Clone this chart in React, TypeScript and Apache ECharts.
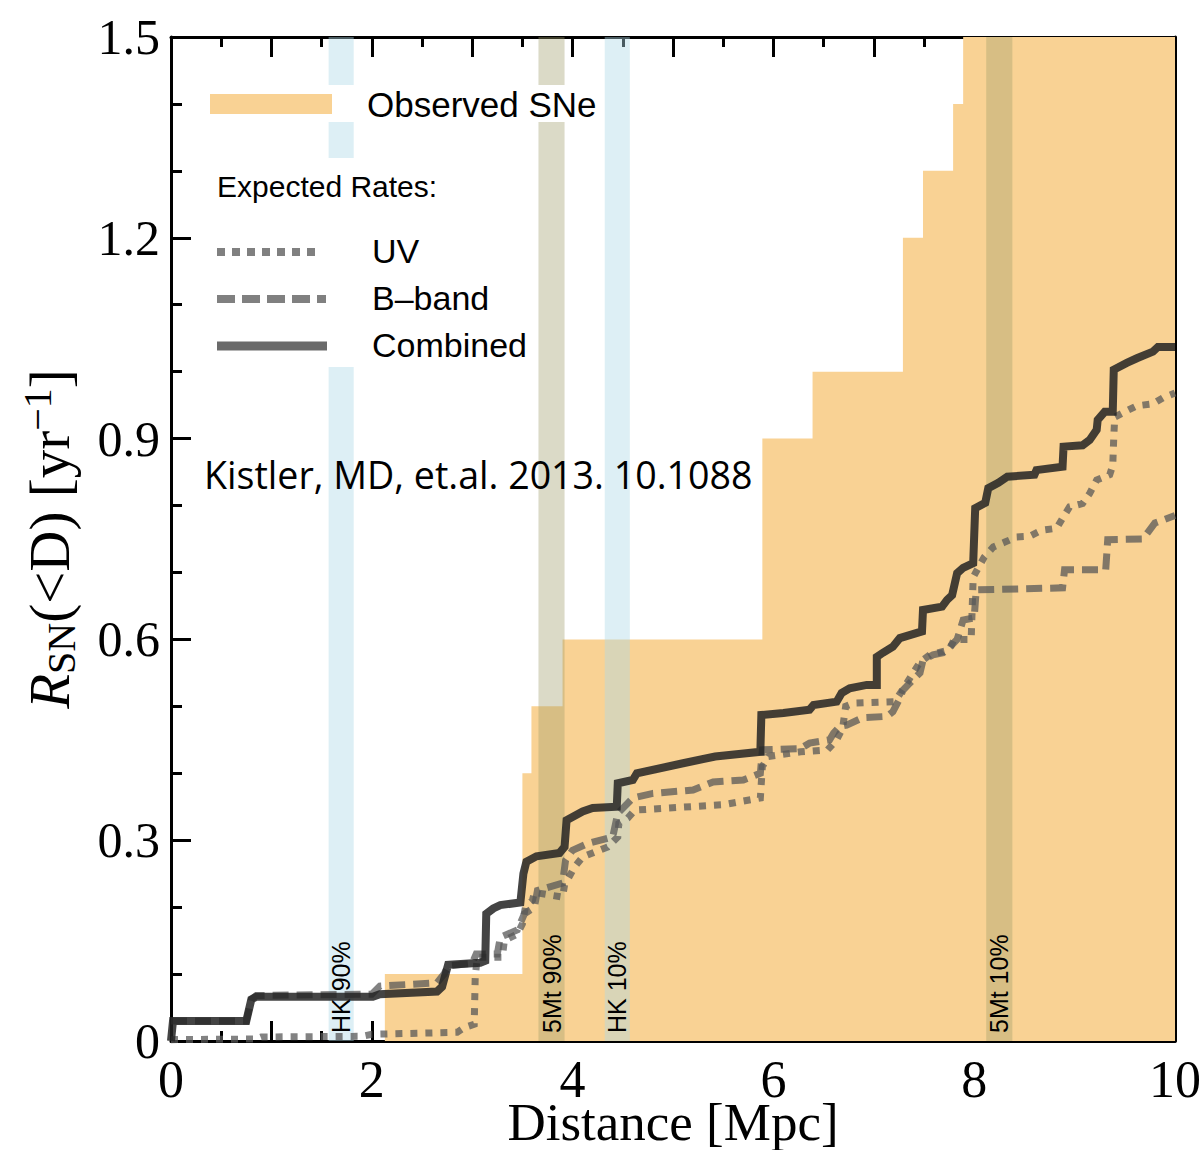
import React, { useEffect, useRef } from 'react';
import * as echarts from 'echarts';

// Observed core-collapse supernovae: cumulative rate steps (start distance, rate)
const observedDist = [2.13, 3.5, 3.59, 3.9, 5.89, 6.39, 7.29, 7.49, 7.79, 7.89, 10];
const observedRate = [0.1, 0.4, 0.5, 0.6, 0.9, 1.0, 1.2, 1.3, 1.4, 1.5, 1.5];

// Expected cumulative rates [distance Mpc, rate yr^-1]
const uvRate: [number, number][] = [
  [0, 0.002], [0.85, 0.003], [0.9, 0.006], [1.9, 0.007], [2.0, 0.01], [2.85, 0.013], [2.92, 0.02],
  [3.02, 0.025], [3.03, 0.095], [3.05, 0.125], [3.3, 0.125], [3.32, 0.15], [3.45, 0.16], [3.5, 0.175],
  [3.53, 0.2], [3.6, 0.21], [3.62, 0.222], [3.9, 0.215], [3.92, 0.233], [4.02, 0.26], [4.1, 0.275],
  [4.35, 0.29], [4.45, 0.305], [4.46, 0.325], [4.55, 0.333], [4.62, 0.345], [5.5, 0.353], [5.87, 0.363],
  [5.89, 0.41], [5.95, 0.425], [6.27, 0.432], [6.54, 0.435], [6.63, 0.45], [6.69, 0.468], [6.72, 0.5],
  [6.8, 0.505], [7.2, 0.507], [7.24, 0.514], [7.33, 0.535], [7.46, 0.566], [7.56, 0.577], [7.75, 0.584],
  [7.8, 0.6], [7.97, 0.6], [7.99, 0.693], [8.1, 0.723], [8.19, 0.738], [8.3, 0.745], [8.42, 0.753],
  [8.55, 0.754], [8.67, 0.763], [8.82, 0.766], [8.88, 0.781], [8.95, 0.798], [9.08, 0.803], [9.15, 0.818],
  [9.22, 0.838], [9.35, 0.846], [9.38, 0.86], [9.39, 0.902], [9.4, 0.932], [9.5, 0.94], [9.62, 0.949],
  [9.78, 0.952], [9.88, 0.961], [10, 0.968],
];

const bBandRate: [number, number][] = [
  [0, 0.03], [0.75, 0.03], [0.8, 0.062], [0.85, 0.068], [2.0, 0.07], [2.08, 0.082], [2.65, 0.087],
  [2.72, 0.1], [2.76, 0.112], [3.0, 0.116], [3.04, 0.13], [3.25, 0.13], [3.28, 0.155], [3.45, 0.166],
  [3.52, 0.19], [3.62, 0.2], [3.65, 0.225], [3.9, 0.236], [3.93, 0.27], [4.0, 0.285], [4.15, 0.295],
  [4.4, 0.305], [4.45, 0.34], [4.6, 0.363], [4.8, 0.37], [5.2, 0.375], [5.4, 0.387], [5.7, 0.39],
  [5.87, 0.4], [5.89, 0.435], [6.27, 0.437], [6.36, 0.445], [6.56, 0.45], [6.6, 0.46], [6.66, 0.47],
  [6.73, 0.472], [6.89, 0.483], [7.13, 0.485], [7.19, 0.492], [7.26, 0.512], [7.29, 0.524], [7.36, 0.535],
  [7.46, 0.55], [7.49, 0.569], [7.59, 0.577], [7.69, 0.58], [7.76, 0.589], [7.83, 0.6], [7.89, 0.629],
  [8.0, 0.632], [8.02, 0.674], [8.88, 0.677], [8.9, 0.704], [9.31, 0.704], [9.33, 0.749], [9.68, 0.75],
  [9.73, 0.76], [9.8, 0.774], [10, 0.785],
];

const combinedRate: [number, number][] = [
  [0, 0], [0.02, 0.03], [0.75, 0.03], [0.8, 0.062], [0.85, 0.066], [2.01, 0.066], [2.08, 0.07],
  [2.65, 0.074], [2.7, 0.081], [2.76, 0.114], [3.08, 0.117], [3.13, 0.12], [3.14, 0.19], [3.21, 0.198],
  [3.28, 0.203], [3.48, 0.207], [3.51, 0.25], [3.54, 0.268], [3.64, 0.276], [3.87, 0.281], [3.92, 0.29],
  [3.94, 0.33], [4.1, 0.343], [4.2, 0.348], [4.44, 0.35], [4.45, 0.385], [4.6, 0.39], [4.64, 0.4],
  [5.1, 0.415], [5.42, 0.425], [5.87, 0.432], [5.88, 0.487], [6.1, 0.49], [6.36, 0.495], [6.4, 0.502],
  [6.63, 0.507], [6.68, 0.52], [6.76, 0.527], [6.93, 0.532], [7.03, 0.532], [7.03, 0.574], [7.09, 0.58],
  [7.19, 0.589], [7.26, 0.602], [7.48, 0.612], [7.49, 0.644], [7.68, 0.649], [7.73, 0.659], [7.78, 0.666],
  [7.83, 0.699], [7.89, 0.707], [7.99, 0.714], [8.01, 0.796], [8.11, 0.804], [8.14, 0.826], [8.24, 0.834],
  [8.33, 0.843], [8.6, 0.846], [8.62, 0.853], [8.88, 0.858], [8.89, 0.888], [9.08, 0.89], [9.15, 0.898],
  [9.22, 0.913], [9.23, 0.928], [9.3, 0.94], [9.38, 0.94], [9.39, 1.003], [9.52, 1.013], [9.62, 1.02],
  [9.78, 1.03], [9.83, 1.037], [10, 1.037],
];

// Detector horizon bands (distance ranges, Mpc)
const bandStart = [1.57, 3.66, 4.32, 8.12];
const bandEnd = [1.82, 3.92, 4.57, 8.38];
const bandLabel = ['HK 90%', '5Mt 90%', 'HK 10%', '5Mt 10%'];
const bandKind = ['HK', '5Mt', 'HK', '5Mt'];

const X_MAX = 10;
const Y_MAX = 1.5;

const SERIF = '"Liberation Serif", "Times New Roman", serif';
const SANS = '"Liberation Sans", Arial, sans-serif';
const ORANGE = '#f9d294';
const BAND_COLORS: Record<string, string> = {
  HK: 'rgba(173,216,230,0.42)',
  '5Mt': 'rgba(161,158,108,0.38)',
};

const axisLineStyle = { color: '#000', width: 3 };

function makeXAxis(position: 'bottom' | 'top', withLabels: boolean) {
  return {
    type: 'value',
    min: 0,
    max: X_MAX,
    interval: 1,
    position,
    axisLine: { show: true, onZero: false, lineStyle: axisLineStyle },
    axisTick: { show: true, inside: true, length: 20, lineStyle: { color: '#000', width: 3 } },
    minorTick: { show: true, splitNumber: 2, length: 10, lineStyle: { color: '#000', width: 3 } },
    splitLine: { show: false },
    minorSplitLine: { show: false },
    axisLabel: withLabels
      ? {
          show: true,
          margin: 12,
          color: '#000',
          fontFamily: SERIF,
          fontSize: 52,
          formatter: (v: number) => (Math.round(v) % 2 === 0 ? String(Math.round(v)) : ''),
        }
      : { show: false },
    ...(withLabels
      ? {
          name: 'Distance [Mpc]',
          nameLocation: 'middle',
          nameGap: 54,
          nameMoveOverlap: false,
          nameTextStyle: { color: '#000', fontFamily: SERIF, fontSize: 53 },
        }
      : {}),
  };
}

function makeYAxis(position: 'left' | 'right', withLabels: boolean) {
  return {
    type: 'value',
    min: 0,
    max: Y_MAX,
    interval: 0.3,
    position,
    axisLine: { show: true, onZero: false, lineStyle: axisLineStyle },
    axisTick: { show: true, inside: true, length: 20, lineStyle: { color: '#000', width: 3 } },
    minorTick: { show: true, splitNumber: 3, length: 11, lineStyle: { color: '#000', width: 3 } },
    splitLine: { show: false },
    minorSplitLine: { show: false },
    axisLabel: withLabels
      ? {
          show: true,
          margin: 11,
          color: '#000',
          fontFamily: SERIF,
          fontSize: 50,
          formatter: (v: number) => (Math.abs(v) < 1e-9 ? '0' : v.toFixed(1)),
        }
      : { show: false },
    ...(withLabels
      ? {
          name: '{it|R}{sub|SN}{n|(<D) [yr}{sup|−1}{n|]}',
          nameLocation: 'middle',
          nameGap: 90,
          nameMoveOverlap: false,
          nameTextStyle: {
            color: '#000',
            fontFamily: SERIF,
            fontSize: 57,
            rich: {
              it: { fontFamily: SERIF, fontSize: 57, fontStyle: 'italic', color: '#000', lineHeight: 64, verticalAlign: 'middle' },
              sub: { fontFamily: SERIF, fontSize: 40, color: '#000', lineHeight: 64, verticalAlign: 'bottom' },
              n: { fontFamily: SERIF, fontSize: 57, color: '#000', lineHeight: 64, verticalAlign: 'middle' },
              sup: { fontFamily: SERIF, fontSize: 40, color: '#000', lineHeight: 64, verticalAlign: 'top' },
            },
          },
        }
      : {}),
  };
}

function legendGraphics() {
  const entryFont = { fontFamily: SANS, fontSize: 34, fill: '#000' };
  return [
    // white backing behind the legend block
    { type: 'rect', z: 50, shape: { x: 200, y: 85, width: 400, height: 37 }, style: { fill: '#fff' } },
    { type: 'rect', z: 50, shape: { x: 200, y: 158, width: 333, height: 209 }, style: { fill: '#fff' } },
    { type: 'rect', z: 51, shape: { x: 210, y: 94, width: 122, height: 20 }, style: { fill: ORANGE } },
    { type: 'text', z: 51, x: 367, y: 104, style: { ...entryFont, fontSize: 35, text: 'Observed SNe', verticalAlign: 'middle' } },
    { type: 'text', z: 51, x: 217, y: 186, style: { fontFamily: SANS, fontSize: 30, fill: '#000', text: 'Expected Rates:', verticalAlign: 'middle' } },
    { type: 'line', z: 51, shape: { x1: 217, y1: 252, x2: 320, y2: 252 }, style: { stroke: '#808080', lineWidth: 8, lineDash: [8, 7], lineCap: 'butt' } },
    { type: 'text', z: 51, x: 372, y: 251, style: { ...entryFont, text: 'UV', verticalAlign: 'middle' } },
    { type: 'line', z: 51, shape: { x1: 217, y1: 299, x2: 326, y2: 299 }, style: { stroke: '#808080', lineWidth: 8, lineDash: [18, 7], lineCap: 'butt' } },
    { type: 'text', z: 51, x: 372, y: 298, style: { ...entryFont, text: 'B–band', verticalAlign: 'middle' } },
    { type: 'line', z: 51, shape: { x1: 217, y1: 346, x2: 327, y2: 346 }, style: { stroke: '#6a6a6a', lineWidth: 9, lineCap: 'butt' } },
    { type: 'text', z: 51, x: 372, y: 345, style: { ...entryFont, text: 'Combined', verticalAlign: 'middle' } },
    // citation
    {
      type: 'text',
      z: 52,
      x: 204,
      y: 474,
      style: { text: 'Kistler, MD, et.al. 2013. 10.1088', fontFamily: '"Open Sans", sans-serif', fontSize: 37.6, fill: '#000', verticalAlign: 'middle' },
    },
  ];
}

export default function App() {
  const ref = useRef<HTMLDivElement>(null);

  useEffect(() => {
    if (!ref.current) return;
    const chart = echarts.init(ref.current, null, { renderer: 'svg' });

    const observedData = observedDist.map((d, i) => [d, observedRate[i]]);
    const bandData = bandStart.map((s, i) => [s, bandEnd[i]]);

    const option: any = {
      animation: false,
      backgroundColor: '#fff',
      grid: { left: 171, right: 24, top: 37, bottom: 109, containLabel: false, outerBoundsMode: 'none' },
      xAxis: [makeXAxis('bottom', true), makeXAxis('top', false)],
      yAxis: [makeYAxis('left', true), makeYAxis('right', false)],
      series: [
        {
          name: 'Observed SNe',
          type: 'line',
          step: 'end',
          xAxisIndex: 0,
          yAxisIndex: 0,
          data: observedData,
          showSymbol: false,
          symbol: 'none',
          lineStyle: { width: 0, color: ORANGE },
          areaStyle: { color: ORANGE, opacity: 1 },
          z: 1,
          silent: true,
        },
        {
          name: 'Horizons',
          type: 'custom',
          xAxisIndex: 0,
          yAxisIndex: 0,
          data: bandData,
          z: 2,
          silent: true,
          renderItem: (params: any, api: any) => {
            const i = params.dataIndex;
            const p0 = api.coord([api.value(0), Y_MAX]);
            const p1 = api.coord([api.value(1), 0]);
            const cx = (p0[0] + p1[0]) / 2;
            return {
              type: 'group',
              children: [
                {
                  type: 'rect',
                  shape: { x: p0[0], y: p0[1], width: p1[0] - p0[0], height: p1[1] - p0[1] },
                  style: { fill: BAND_COLORS[bandKind[i]] },
                },
                {
                  type: 'text',
                  x: cx,
                  y: p1[1] - 8,
                  rotation: Math.PI / 2,
                  style: {
                    text: bandLabel[i],
                    fontFamily: SANS,
                    fontSize: 25,
                    fill: '#000',
                    align: 'left',
                    verticalAlign: 'middle',
                  },
                },
              ],
            };
          },
        },
        {
          name: 'UV',
          type: 'line',
          data: uvRate,
          showSymbol: false,
          symbol: 'none',
          z: 3,
          silent: true,
          lineStyle: { color: 'rgba(88,88,88,0.75)', width: 7, type: [7, 8], cap: 'butt', join: 'miter' },
        },
        {
          name: 'B-band',
          type: 'line',
          data: bBandRate,
          showSymbol: false,
          symbol: 'none',
          z: 3,
          silent: true,
          lineStyle: { color: 'rgba(88,88,88,0.75)', width: 7, type: [16, 8], cap: 'butt', join: 'miter' },
        },
        {
          name: 'Combined',
          type: 'line',
          data: combinedRate,
          showSymbol: false,
          symbol: 'none',
          z: 4,
          silent: true,
          lineStyle: { color: 'rgba(35,35,35,0.85)', width: 8, join: 'miter' },
        },
      ],
      graphic: legendGraphics(),
    };

    chart.setOption(option);
    return () => chart.dispose();
  }, []);

  return (
    <div
      ref={ref}
      style={{ position: 'fixed', left: 0, top: 0, width: 1199, height: 1150, background: '#fff' }}
    />
  );
}
